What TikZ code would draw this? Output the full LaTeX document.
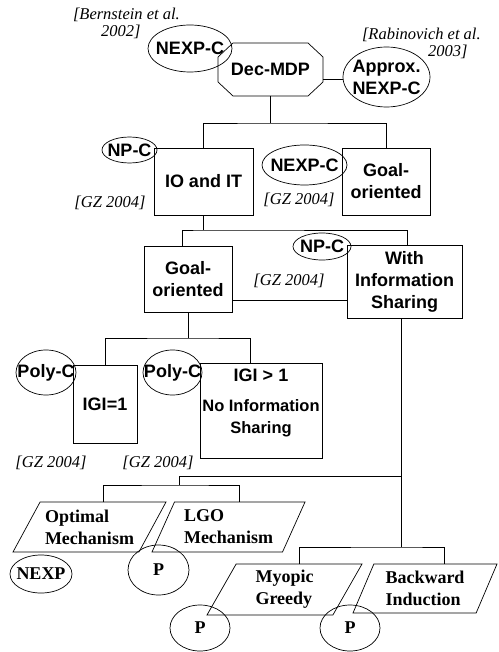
\documentclass[tikz,border=0pt]{standalone}
\usepackage{fontspec}
\setmainfont{Liberation Serif}
\newfontfamily\arialf{Liberation Sans}
\usetikzlibrary{shapes.geometric}
\newcommand\mysans{\arialf\bfseries\fontsize{18}{22}\selectfont}
\newcommand\mysmallsans{\arialf\bfseries\fontsize{16.5}{19.5}\selectfont}
\newcommand\myserb{\bfseries\fontsize{18}{22}\selectfont}
\newcommand\mycite{\itshape\fontsize{16.5}{17.5}\selectfont}
\begin{document}
\begin{tikzpicture}[x=1pt,y=-1pt,
  every node/.style={inner sep=0pt, outer sep=0pt},
  line width=0.7pt,
  box/.style={draw, rectangle, font=\mysans, align=center, line width=0.7pt},
  ell/.style={draw, ellipse, line width=0.7pt, label={[font=\mysans, align=center]center:#1}},
  pell/.style={draw, ellipse, line width=0.7pt, label={[font=\myserb]center:#1}},
  para/.style={draw, trapezium, trapezium stretches body, font=\myserb, align=left, line width=0.7pt},
  cite/.style={font=\mycite, align=left},
  conn/.style={line width=0.7pt},
  trunk/.style={line width=1.3pt},
]
\path[fill=white] (0,0) rectangle (498,652);
\useasboundingbox (0,0) rectangle (498,652);

% citations
\node[cite, anchor=west] (c1) at (73,23.5) {[Bernstein et al.\\\hspace*{28pt}2002]};
\node[cite, anchor=west] (c2) at (362,43.5) {[Rabinovich et al.\\\hspace*{66pt}2003]};
\node[cite] (gz1) at (110,203) {[GZ 2004]};
\node[cite] (gz2) at (299,200) {[GZ 2004]};
\node[cite] (gz3) at (289,281) {[GZ 2004]};
\node[cite] (gz4) at (51,463) {[GZ 2004]};
\node[cite] (gz5) at (158,463) {[GZ 2004]};

% Dec-MDP octagon
\node[font=\mysans, minimum width=105pt, minimum height=53pt] (dec) at (270.5,69.5) {Dec-MDP};
\draw ([xshift=15pt]dec.north west) -- ([xshift=-15pt]dec.north east)
  -- ([yshift=-14pt]dec.north east) -- ([yshift=14pt]dec.south east)
  -- ([xshift=-15pt]dec.south east) -- ([xshift=15pt]dec.south west)
  -- ([yshift=14pt]dec.south west) -- ([yshift=-14pt]dec.north west) -- cycle;

% ellipses
\node[ell={NEXP-C}, minimum width=84pt, minimum height=47pt] (e1) at (190,48.5) {};
\node[ell={Approx.\\NEXP-C}, minimum width=87pt, minimum height=60pt] (approx) at (386.5,77) {};
\node[ell={NP-C}, minimum width=55pt, minimum height=26pt] (npc1) at (129.5,150) {};
\node[ell={NEXP-C}, minimum width=85pt, minimum height=40pt] (nexpc2) at (304.5,165) {};
\node[ell={NP-C}, minimum width=58pt, minimum height=27pt] (npc2) at (322,246.5) {};
\node[ell={Poly-C}, minimum width=60pt, minimum height=45pt] (polyc1) at (46,372.5) {};
\node[ell={Poly-C}, minimum width=59pt, minimum height=45pt] (polyc2) at (172.5,372.5) {};
\node[pell={NEXP}, minimum width=62pt, minimum height=38pt] (nexp) at (41,574) {};
\node[pell={P}, minimum width=61pt, minimum height=50pt] (p1) at (158.5,570) {};
\node[pell={P}, minimum width=60pt, minimum height=46pt] (p2) at (200,628) {};
\node[pell={P}, minimum width=60pt, minimum height=46pt] (p3) at (350,628) {};

% boxes
\node[box, minimum width=99pt, minimum height=67pt] (io) at (203.5,181.5) {IO and IT};
\node[box, minimum width=88pt, minimum height=67pt] (goal1) at (386,181.5) {Goal-\\oriented};
\node[box, minimum width=88pt, minimum height=66pt] (goal2) at (188,279) {Goal-\\oriented};
\node[box, minimum width=115pt, minimum height=73pt] (with) at (404.5,281.5) {With\\Information\\Sharing};
\node[box, minimum width=64pt, minimum height=78pt] (g1) at (105,404) {IGI=1};
\node[box, minimum width=122pt, minimum height=95pt] (gt1) at (261,410.5) {};
\node[font=\mysans, align=center] (gt1t) at (261,403) {IGI > 1\\[8pt]\mysmallsans No Information\\\mysmallsans Sharing};

% parallelograms
\node[para, trapezium left angle=52, trapezium right angle=128, minimum width=153pt, minimum height=50pt] (opt) at (89.5,527) {Optimal\\Mechanism};
\node[para, trapezium left angle=56.6, trapezium right angle=123.4, minimum width=153pt, minimum height=50pt] (lgo) at (228.5,527) {LGO\\Mechanism};
\node[para, trapezium left angle=52.8, trapezium right angle=127.2, minimum width=155pt, minimum height=51pt] (myo) at (284.5,589.5) {Myopic\\Greedy};
\node[para, trapezium left angle=59, trapezium right angle=121, minimum width=144pt, minimum height=49pt] (bwd) at (425,588.5) {Backward\\Induction};

% connectors
\coordinate (j1) at (270.5,123);
\draw[trunk] (dec.south) -- (j1);
\draw[conn] (io.north) |- (j1) -| (goal1.north);
\draw[conn] ([yshift=-10pt]dec.east) -- ([yshift=-10pt]dec.east -| approx.west);

\coordinate (j2) at (203.5,230);
\draw[conn] (io.south) -- (j2);
\draw[conn] ([xshift=-6pt]goal2.north) |- (j2) -| ([xshift=2.5pt]with.north);
\draw[conn] ([yshift=-21pt]goal2.east) -- ([yshift=-21pt]goal2.east -| with.west);

\coordinate (j3) at (188,338);
\draw[conn] (goal2.south) -- (j3);
\draw[conn] (g1.north) |- (j3) -| ([xshift=-11pt]gt1.north);

\coordinate (j4) at (401,476);
\coordinate (j5) at (179,485);
\coordinate (j6) at (401,547);
\draw[conn] ([xshift=-3.5pt]with.south) -- (j6);
\draw[conn] (j4) -| (j5);
\draw[conn] (opt.top side) |- (j5) -| (lgo.top side);
\draw[conn] (myo.top side) |- (j6) -| ([xshift=9pt]bwd.top side);
\end{tikzpicture}
\end{document}
